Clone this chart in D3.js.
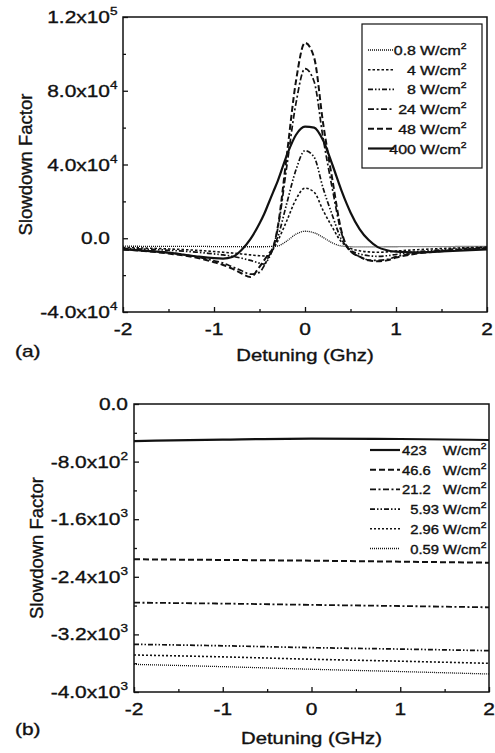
<!DOCTYPE html>
<html>
<head>
<meta charset="utf-8">
<script src="https://cdn.jsdelivr.net/npm/d3@7"></script>
<style>
  body { margin: 0; background: #fff; }
  svg { display: block; }
  text { font-family: "Liberation Sans", Arial, sans-serif; fill: #111; stroke: #111; stroke-width: 0.35px; }
</style>
</head>
<body>
<div id="chart"></div>
<script>
// ---- data (panel a): slowdown factor in units of 1e3 ----
var detuningA = [-2, -1.5, -1.2, -1, -0.9, -0.8, -0.7, -0.6, -0.5, -0.45, -0.4, -0.35, -0.3, -0.2, -0.1, 0, 0.1, 0.2, 0.3, 0.4, 0.46, 0.5, 0.6, 0.7, 0.8, 0.9, 1, 1.2, 1.5, 2];
var a_0p8 = [-4.3, -4.4, -4.4, -4.5, -4.5, -4.5, -4.6, -4.6, -4.6, -4.6, -4.5, -4.4, -4.2, -1.5, 2.2, 3.8, 3.0, 0.4, -2.5, -4.2, -4.5, -4.6, -4.7, -4.7, -4.7, -4.6, -4.6, -4.5, -4.5, -4.4];
var a_4 = [-5, -5.8, -6.5, -7.2, -7.6, -8, -8.5, -9, -9.5, -9.6, -9.5, -6, -1.5, 9.5, 21, 27.2, 25, 15, 6, -2, -4.5, -5.5, -6.8, -7.4, -7.6, -7.4, -7, -6.3, -5.6, -4.8];
var a_8 = [-5.5, -6.5, -7.5, -8.5, -9, -9.8, -10.8, -12, -13.5, -14, -11, -5.5, 0.5, 19, 37, 47.5, 44, 27, 12.5, -0.5, -4.5, -6.5, -8.5, -9.5, -9.8, -9.5, -8.8, -7.5, -6.3, -5];
var a_24 = [-6, -7.8, -10, -12.2, -13.5, -15.5, -17.5, -19.5, -18.5, -15, -10, -5, 5, 39, 73, 92, 85, 54, 27, 3, -4.5, -7, -10, -11.8, -12, -11.5, -10, -8.3, -6.8, -5.5];
var a_48 = [-6, -8.3, -10.5, -13, -14.5, -16.5, -19, -21, -15.5, -12, -8.5, -5, 6, 45, 85, 106, 98, 62, 32, 4, -4.5, -7, -10, -12, -12.5, -12, -10.5, -8.5, -7, -5.5];
var a_400 = [-6, -7.8, -9.8, -10.8, -11, -10.2, -6.5, -0.5, 8, 13, 19, 25, 31, 45, 56, 60.5, 60, 53, 40, 26, 18.5, 14, 5, -1, -4.8, -6.5, -7.3, -7.7, -7.2, -6];
var seriesNamesA = ["0.8", "4", "8", "24", "48", "400"];
var xTicksA = [-2, -1, 0, 1, 2];
var yTicksA = [-40, 0, 40, 80, 120];
var yTickMainA = ["-4.0x10", "0.0", "4.0x10", "8.0x10", "1.2x10"];
var yTickExpA = ["4", "", "4", "4", "5"];

// ---- data (panel b) ----
var detuningB = [-2, -1, 0, 1, 2];
var b_423 = [-515, -495, -482, -486, -500];
var b_46p6 = [-2157, -2166, -2176, -2190, -2204];
var b_21p2 = [-2759, -2772, -2790, -2806, -2824];
var b_5p93 = [-3338, -3358, -3384, -3404, -3426];
var b_2p96 = [-3486, -3512, -3545, -3572, -3602];
var b_0p59 = [-3616, -3648, -3684, -3716, -3750];
var seriesNamesB = ["423", "46.6", "21.2", "  5.93", "  2.96", "  0.59"];
var xTicksB = [-2, -1, 0, 1, 2];
var yTicksB = [-4000, -3200, -2400, -1600, -800, 0];
var yTickMainB = ["-4.0x10", "-3.2x10", "-2.4x10", "-1.6x10", "-8.0x10", "0.0"];
var yTickExpB = ["3", "3", "3", "3", "2", ""];

// line styles for each legend row (thin dots -> solid)
var styleA = [
  { dash: "1,1", w: 1.3 },
  { dash: "2.5,2", w: 1.6 },
  { dash: "5,2,1.5,2,1.5,2", w: 1.7 },
  { dash: "6,2.5,2,2.5", w: 1.7 },
  { dash: "6,3", w: 2 },
  { dash: null, w: 2.2 }
];
var styleB = [
  { dash: null, w: 2.2 },
  { dash: "6,3", w: 2 },
  { dash: "6,2.5,2,2.5", w: 1.8 },
  { dash: "5,2,1.5,2,1.5,2", w: 1.7 },
  { dash: "2,2", w: 1.6 },
  { dash: "1,1", w: 1.3 }
];

var SX = 1.23; // the figure's text is a bit wide

var svg = d3.select("#chart").append("svg")
  .attr("width", 495)
  .attr("height", 753);

function stretchText(g, x, y, s, size, anchor) {
  return g.append("text")
    .attr("transform", "translate(" + x + "," + y + ") scale(" + SX + ",1)")
    .attr("font-size", size)
    .attr("text-anchor", anchor || "start")
    .style("white-space", "pre")
    .text(s);
}

// mantissa + superscript, right edge at xRight
function sciLabel(g, xRight, y, main, exp, supOutside) {
  var t = g.append("text").attr("font-size", 17);
  t.append("tspan").text(main);
  if (exp) t.append("tspan").attr("dy", -8).attr("font-size", 11).text(exp);
  var wMain = t.select("tspan").node().getComputedTextLength();
  var wAll = t.node().getComputedTextLength();
  var w = supOutside ? wMain : wAll;
  t.attr("transform", "translate(" + (xRight - w * SX) + "," + y + ") scale(" + SX + ",1)");
}

function drawPanel(opt) {
  var g = svg.append("g");
  var x = d3.scaleLinear().domain([-2, 2]).range([opt.left, opt.right]);
  var y = d3.scaleLinear().domain(opt.yDomain).range([opt.bottom, opt.top]);

  // ticks, pointing inward
  g.append("g")
    .attr("transform", "translate(0," + opt.bottom + ")")
    .call(d3.axisBottom(x).tickValues(opt.xTicks).tickSize(-5).tickFormat(""))
    .call(s => s.select(".domain").remove());
  g.append("g")
    .attr("transform", "translate(0," + opt.bottom + ")")
    .call(d3.axisBottom(x).tickValues([-1.5, -0.5, 0.5, 1.5]).tickSize(-3).tickFormat(""))
    .call(s => s.select(".domain").remove());
  g.append("g")
    .attr("transform", "translate(" + opt.left + ",0)")
    .call(d3.axisLeft(y).tickValues(opt.yTicks).tickSize(-5).tickFormat(""))
    .call(s => s.select(".domain").remove());
  g.append("g")
    .attr("transform", "translate(" + opt.left + ",0)")
    .call(d3.axisLeft(y).tickValues(opt.yMinor).tickSize(-3).tickFormat(""))
    .call(s => s.select(".domain").remove());
  g.selectAll(".tick line").attr("stroke", "#111").attr("stroke-width", 1.3);

  // curves
  var line = d3.line()
    .x((d, i) => x(opt.xs[i]))
    .y(d => y(d))
    .curve(d3.curveMonotoneX);
  opt.series.forEach(function(vals, i) {
    g.append("path")
      .datum(vals)
      .attr("d", line)
      .attr("fill", "none")
      .attr("stroke", "#111")
      .attr("stroke-width", opt.styles[i].w)
      .attr("stroke-dasharray", opt.styles[i].dash);
  });

  // frame
  g.append("rect")
    .attr("x", opt.left).attr("y", opt.top)
    .attr("width", opt.right - opt.left).attr("height", opt.bottom - opt.top)
    .attr("fill", "none").attr("stroke", "#111").attr("stroke-width", 1.5);

  // tick labels
  opt.xTicks.forEach(function(v) {
    stretchText(g, x(v), opt.bottom + 23, String(v), 17, "middle");
  });
  opt.yTicks.forEach(function(v, i) {
    sciLabel(g, opt.labelRight, y(v) + 6, opt.yMain[i], opt.yExp[i], opt.supOutside);
  });

  // axis titles
  g.append("text")
    .attr("transform", "translate(" + opt.yTitleX + "," + ((opt.top + opt.bottom) / 2) + ") rotate(-90)")
    .attr("text-anchor", "middle")
    .attr("font-size", 18.5)
    .text("Slowdown Factor");
  stretchText(g, (opt.left + opt.right) / 2, opt.xTitleY, opt.xTitle, 16.5, "middle");
  stretchText(g, 15, opt.tagY, opt.tag, 17, "start");

  // legend
  var lg = opt.legend;
  if (lg.box) {
    g.append("rect")
      .attr("x", lg.box[0]).attr("y", lg.box[1])
      .attr("width", lg.box[2]).attr("height", lg.box[3])
      .attr("fill", "#fff").attr("stroke", "#111").attr("stroke-width", 1.2);
  }
  opt.names.forEach(function(name, i) {
    var ly = lg.y0 + i * lg.dy;
    g.append("line")
      .attr("x1", lg.x1).attr("x2", lg.x2)
      .attr("y1", ly).attr("y2", ly)
      .attr("stroke", "#111")
      .attr("stroke-width", opt.styles[i].w)
      .attr("stroke-dasharray", opt.styles[i].dash);
    stretchText(g, lg.numX, ly + 5, name, lg.size, lg.numAnchor);
    var u = stretchText(g, lg.unitX, ly + 5, "W/cm", lg.size, "start");
    u.append("tspan").attr("dy", -6).attr("font-size", 8.5).text("2");
  });
}

drawPanel({
  left: 123, right: 487, top: 17, bottom: 312,
  yDomain: [-40, 120],
  xs: detuningA,
  series: [a_0p8, a_4, a_8, a_24, a_48, a_400],
  styles: styleA,
  names: seriesNamesA,
  xTicks: xTicksA,
  yTicks: yTicksA,
  yMinor: [-20, 20, 60, 100],
  yMain: yTickMainA, yExp: yTickExpA,
  labelRight: 110, supOutside: true,
  yTitleX: 32, xTitleY: 361, xTitle: "Detuning (Ghz)",
  tag: "(a)", tagY: 357,
  legend: { box: [362, 24, 120, 144], y0: 50, dy: 19.7, x1: 368, x2: 394, numX: 416, numAnchor: "end", unitX: 420, size: 13 }
});

drawPanel({
  left: 134, right: 489, top: 404, bottom: 692,
  yDomain: [-4000, 0],
  xs: detuningB,
  series: [b_423, b_46p6, b_21p2, b_5p93, b_2p96, b_0p59],
  styles: styleB,
  names: seriesNamesB,
  xTicks: xTicksB,
  yTicks: yTicksB,
  yMinor: [-3600, -2800, -2000, -1200, -400],
  yMain: yTickMainB, yExp: yTickExpB,
  labelRight: 128, supOutside: false,
  yTitleX: 43, xTitleY: 744, xTitle: "Detuning (GHz)",
  tag: "(b)", tagY: 735,
  legend: { box: null, y0: 450, dy: 19.7, x1: 370, x2: 400, numX: 402, numAnchor: "start", unitX: 443, size: 12 }
});
</script>
</body>
</html>
